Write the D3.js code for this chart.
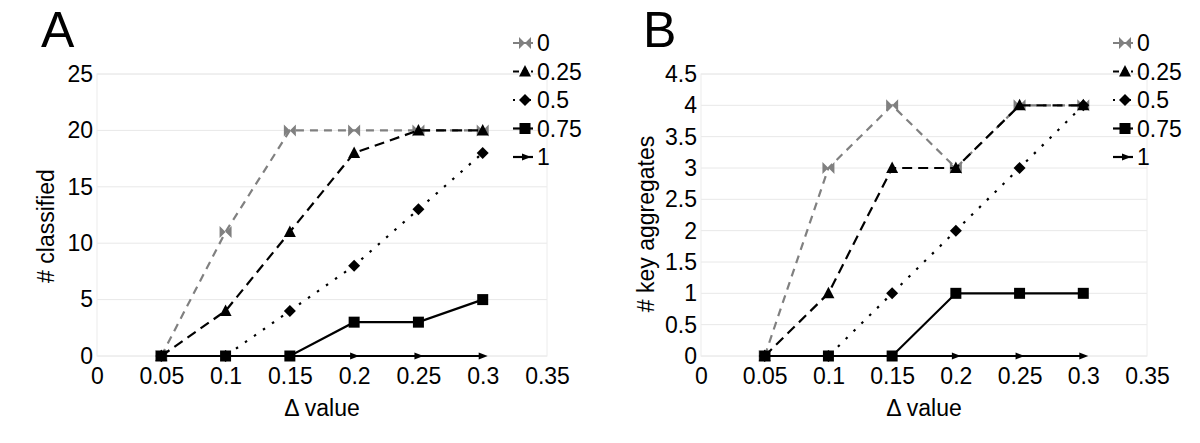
<!DOCTYPE html>
<html><head><meta charset="utf-8">
<script src="https://cdn.jsdelivr.net/npm/d3@7"></script>
<style>body{margin:0;background:#fff;} svg{display:block;font-family:"Liberation Sans",Arial,sans-serif;}</style>
</head><body>
<svg id="c" width="1200" height="443"></svg>
<script>
const deltaValues = [0.05, 0.1, 0.15, 0.2, 0.25, 0.3];
const seriesNames = ["0", "0.25", "0.5", "0.75", "1"];
const xTicks = [0, 0.05, 0.1, 0.15, 0.2, 0.25, 0.3, 0.35];
const xTickLabels = ["0", "0.05", "0.1", "0.15", "0.2", "0.25", "0.3", "0.35"];

// Panel A: # classified
const classified_0    = [0, 11, 20, 20, 20, 20];
const classified_025  = [0, 4, 11, 18, 20, 20];
const classified_05   = [0, 0, 4, 8, 13, 18];
const classified_075  = [0, 0, 0, 3, 3, 5];
const classified_1    = [0, 0, 0, 0, 0, 0];
const yTicksA = [0, 5, 10, 15, 20, 25];

// Panel B: # key aggregates
const keyAgg_0   = [0, 3, 4, 3, 4, 4];
const keyAgg_025 = [0, 1, 3, 3, 4, 4];
const keyAgg_05  = [0, 0, 1, 2, 3, 4];
const keyAgg_075 = [0, 0, 0, 1, 1, 1];
const keyAgg_1   = [0, 0, 0, 0, 0, 0];
const yTicksB = [0, 0.5, 1, 1.5, 2, 2.5, 3, 3.5, 4, 4.5];

const FS = 23;
const styles = [
  {color:"#808080", dash:"8,6", marker:"bowtie"},
  {color:"#000", dash:"10,6", marker:"triangle"},
  {color:"#000", dash:"2.5,8.5", marker:"diamond"},
  {color:"#000", dash:null, marker:"square"},
  {color:"#000", dash:null, marker:"arrow"}
];

const svg = d3.select("#c");

function markerPath(type){
  switch(type){
    case "bowtie": return "M-6,-6 L0,0 L-6,6 Z M6,-6 L0,0 L6,6 Z";
    case "triangle": return "M0,-6.5 L6,5 L-6,5 Z";
    case "diamond": return "M0,-6 L6,0 L0,6 L-6,0 Z";
    case "square": return "M-5.5,-5.5 H5.5 V5.5 H-5.5 Z";
    case "arrow": return "M-4,-3.5 L5,0 L-4,3.5 Z";
  }
}

function panel(cfg){
  const g = svg.append("g");
  const x = d3.scaleLinear().domain([0, 0.35]).range([cfg.left, cfg.right]);
  const y = d3.scaleLinear().domain([0, cfg.yMax]).range([cfg.bottom, cfg.top]);

  g.append("g").selectAll("line").data(cfg.yTicks).join("line")
    .attr("x1", cfg.left).attr("x2", cfg.right)
    .attr("y1", d=>y(d)).attr("y2", d=>y(d))
    .attr("stroke", "#e8e8e8").attr("stroke-width", 1);
  g.append("rect").attr("x", cfg.left).attr("y", cfg.top)
    .attr("width", cfg.right-cfg.left).attr("height", cfg.bottom-cfg.top)
    .attr("fill","none").attr("stroke","#ececec").attr("stroke-width",1);

  const yAxis = d3.axisLeft(y).tickValues(cfg.yTicks).tickSize(0).tickPadding(4).tickFormat(d=>String(d));
  const ya = g.append("g").attr("transform", `translate(${cfg.left},0)`).call(yAxis);
  ya.select(".domain").remove();
  ya.selectAll("text").attr("font-size", FS).attr("fill","#000").attr("font-family","Liberation Sans, Arial, sans-serif");

  const xAxis = d3.axisBottom(x).tickValues(xTicks).tickSize(0).tickPadding(12).tickFormat((d,i)=>xTickLabels[i]);
  const xa = g.append("g").attr("transform", `translate(0,${cfg.bottom})`).call(xAxis);
  xa.select(".domain").remove();
  xa.selectAll("text").attr("font-size", FS).attr("fill","#000").attr("font-family","Liberation Sans, Arial, sans-serif");

  g.append("text").attr("x", (cfg.left+cfg.right)/2).attr("y", 416)
    .attr("text-anchor","middle").attr("font-size",FS).text("Δ value");
  g.append("text").attr("transform", `translate(${cfg.yTitleX},${cfg.yTitleY}) rotate(-90)`)
    .attr("text-anchor","middle").attr("dominant-baseline","central").attr("font-size",FS).text(cfg.yTitle);
  g.append("text").attr("x", cfg.letterX).attr("y", 47).attr("font-size", 50).text(cfg.letter);

  const line = d3.line().x((d,i)=>x(deltaValues[i])).y(d=>y(d));
  cfg.series.forEach((vals, si)=>{
    const st = styles[si];
    const s = g.append("g");
    s.append("path").attr("d", line(vals)).attr("fill","none")
      .attr("stroke", st.color).attr("stroke-width", 2.2)
      .attr("stroke-dasharray", st.dash);
    s.selectAll("path.m").data(vals).join("path").attr("class","m")
      .attr("d", markerPath(st.marker))
      .attr("transform",(d,i)=>`translate(${x(deltaValues[i])},${y(d)})`)
      .attr("fill", st.color);
  });

  const lg = g.append("g");
  seriesNames.forEach((name, si)=>{
    const st = styles[si];
    const yy = cfg.legendY + si*28.5;
    lg.append("line").attr("x1", cfg.legendX).attr("x2", cfg.legendX+20)
      .attr("y1", yy).attr("y2", yy).attr("stroke", st.color).attr("stroke-width",2.2)
      .attr("stroke-dasharray", st.dash ? (si===2 ? "2,6" : "6,3") : null);
    lg.append("path").attr("d", markerPath(st.marker))
      .attr("transform", `translate(${cfg.legendX+ (si===4?13:12)},${yy})`).attr("fill", st.color);
    lg.append("text").attr("x", cfg.legendX+24).attr("y", yy).attr("dominant-baseline","central")
      .attr("font-size",FS).text(name);
  });
}

panel({left:97, right:547, top:74, bottom:356, yMax:25, yTicks:yTicksA,
  yTitle:"# classified", yTitleX:46, yTitleY:226, letter:"A", letterX:41,
  legendX:513, legendY:43,
  series:[classified_0, classified_025, classified_05, classified_075, classified_1]});
panel({left:701, right:1147, top:74, bottom:356, yMax:4.5, yTicks:yTicksB,
  yTitle:"# key aggregates", yTitleX:646, yTitleY:224, letter:"B", letterX:643,
  legendX:1113, legendY:43,
  series:[keyAgg_0, keyAgg_025, keyAgg_05, keyAgg_075, keyAgg_1]});
</script>
</body></html>
